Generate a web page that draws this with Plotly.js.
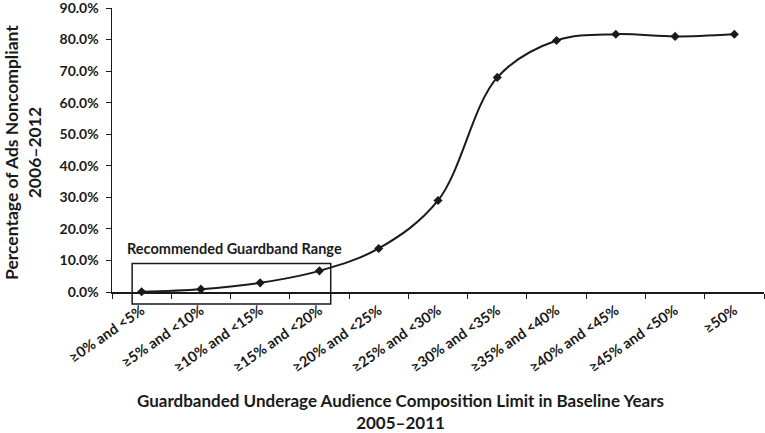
<!DOCTYPE html>
<html>
<head>
<meta charset="utf-8">
<script src="https://cdn.plot.ly/plotly-3.0.1.min.js"></script>
<style>
  html, body { margin: 0; padding: 0; background: #fff; }
  #plotArea { width: 765px; height: 433px; }
</style>
</head>
<body>
<div id="plotArea"></div>
<script>
var categories = ["≥0% and <5%", "≥5% and <10%", "≥10% and <15%", "≥15% and <20%", "≥20% and <25%",
    "≥25% and <30%", "≥30% and <35%", "≥35% and <40%", "≥40% and <45%", "≥45% and <50%", "≥50%"];
var noncompliant = [0.1, 0.9, 2.9, 6.7, 13.8, 29.0, 68.0, 79.7, 81.7, 81.0, 81.7];

var fontFam = "Lato, 'Open Sans', sans-serif";
var ink = "#1a1a1a";

// plot area spans x 112..764, y 8..292 in pixels
var plotH = 433 - 8 - 141;

var trace = {
    x: categories,
    y: noncompliant,
    type: "scatter",
    mode: "lines+markers",
    line: {color: ink, width: 2, shape: "spline", smoothing: 1},
    marker: {symbol: "diamond", size: 7, color: ink},
    cliponaxis: false,
    hoverinfo: "x+y"
};

var layout = {
    width: 765,
    height: 433,
    margin: {l: 112, r: 1, t: 8, b: 141},
    paper_bgcolor: "#fff",
    plot_bgcolor: "#fff",
    showlegend: false,
    font: {family: fontFam, color: ink},
    xaxis: {
        type: "category",
        range: [-0.5, 10.5],
        tickson: "boundaries",
        ticks: "outside",
        ticklen: 5,
        tickcolor: ink,
        showline: true,
        linecolor: ink,
        linewidth: 1.5,
        showgrid: false,
        tickangle: -35,
        ticklabelstandoff: 3,
        tickfont: {family: fontFam, size: 14.5, color: ink, weight: "bold"}
    },
    yaxis: {
        range: [0, 90],
        dtick: 10,
        tickformat: ".1f",
        ticksuffix: "%",
        ticks: "outside",
        ticklen: 5,
        tickcolor: ink,
        showline: true,
        linecolor: ink,
        linewidth: 1.5,
        showgrid: false,
        zeroline: false,
        ticklabelstandoff: 4,
        ticklabeloverflow: "allow",
        tickfont: {family: fontFam, size: 14, color: ink, weight: "bold"}
    },
    shapes: [{
        type: "rect",
        xref: "x", yref: "paper",
        x0: -0.16, x1: 3.19,
        y0: (292 - 304) / plotH, y1: 0.1,
        line: {color: ink, width: 1.5},
        fillcolor: "rgba(0,0,0,0)"
    }],
    annotations: [{
        text: "<b>Recommended Guardband Range</b>",
        xref: "paper", yref: "paper",
        x: (125 - 112) / 652, y: (292 - 248) / plotH,
        xanchor: "left", yanchor: "middle",
        showarrow: false,
        font: {family: fontFam, size: 14.5, color: ink}
    }, {
        text: "<b>Guardbanded Underage Audience Composition Limit in Baseline Years<br>2005–2011</b>",
        xref: "paper", yref: "paper",
        x: (400 - 112) / 652, y: (292 - 411) / plotH,
        xanchor: "center", yanchor: "middle",
        showarrow: false,
        font: {family: fontFam, size: 17, color: ink}
    }, {
        text: "<b>Percentage of Ads Noncompliant<br>2006–2012</b>",
        xref: "paper", yref: "paper",
        x: (23 - 112) / 652, y: (292 - 153) / plotH,
        xanchor: "center", yanchor: "middle",
        textangle: -90,
        showarrow: false,
        font: {family: fontFam, size: 17.5, color: ink}
    }]
};

Plotly.newPlot("plotArea", [trace], layout, {displayModeBar: false, staticPlot: true});
</script>
</body>
</html>
